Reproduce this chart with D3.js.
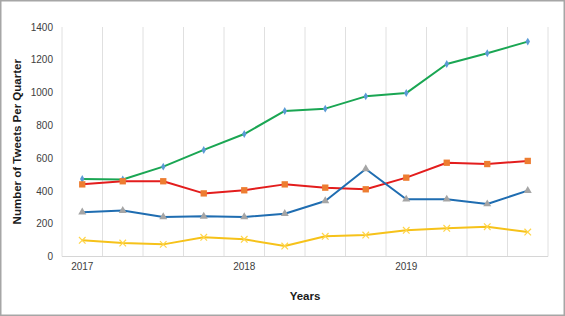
<!DOCTYPE html>
<html>
<head>
<meta charset="utf-8">
<script src="https://cdn.jsdelivr.net/npm/d3@7"></script>
<style>
  body { margin: 0; background: #fff; }
  svg { font-family: "Liberation Sans", Arial, sans-serif; }
</style>
</head>
<body>
<svg id="chart"></svg>
<script>
// Quarters 2017 Q1 .. 2019 Q4
const quarters = ["2017 Q1", "2017 Q2", "2017 Q3", "2017 Q4",
                  "2018 Q1", "2018 Q2", "2018 Q3", "2018 Q4",
                  "2019 Q1", "2019 Q2", "2019 Q3", "2019 Q4"];
const yearLabels = { "2017 Q1": "2017", "2018 Q1": "2018", "2019 Q1": "2019" };
const yTicks = [0, 200, 400, 600, 800, 1000, 1200, 1400];

const greenValues = [473, 470, 548, 650, 747, 888, 902, 977, 997, 1174, 1240, 1311];
const redValues = [440, 459, 459, 385, 404, 440, 420, 410, 481, 572, 564, 583];
const blueValues = [270, 280, 241, 245, 241, 261, 339, 534, 349, 349, 320, 402];
const yellowValues = [99, 82, 74, 117, 105, 64, 123, 131, 160, 172, 182, 149];

const W = 565, H = 316;
const margin = { top: 27, right: 17, bottom: 59.5, left: 62 };

const svg = d3.select("#chart").attr("width", W).attr("height", H);

// outer border
svg.append("rect")
    .attr("x", 0.75).attr("y", 0.75)
    .attr("width", W - 1.5).attr("height", H - 1.5)
    .attr("fill", "#fff").attr("stroke", "#a6a6a6").attr("stroke-width", 1.5);

const x = d3.scaleBand()
    .domain(quarters)
    .range([margin.left, W - margin.right])
    .padding(0);

const y = d3.scaleLinear()
    .domain([0, 1400])
    .range([H - margin.bottom, margin.top]);

// vertical gridlines at category boundaries
const bounds = quarters.map(q => x(q)).concat([x.range()[1]]);
svg.append("g")
    .selectAll("line")
    .data(bounds)
    .enter()
    .append("line")
    .attr("x1", d => d).attr("x2", d => d)
    .attr("y1", y(1400)).attr("y2", y(0))
    .attr("stroke", "#e0e0e0").attr("stroke-width", 1);

// bottom axis line
svg.append("line")
    .attr("x1", x.range()[0]).attr("x2", x.range()[1])
    .attr("y1", y(0)).attr("y2", y(0))
    .attr("stroke", "#d6d6d6").attr("stroke-width", 1);

// y axis
const yAxis = svg.append("g")
    .attr("transform", "translate(" + (margin.left - 9) + ",0)")
    .call(d3.axisLeft(y).tickValues(yTicks).tickFormat(d3.format("d")).tickSize(0).tickPadding(0));
yAxis.select(".domain").remove();
yAxis.selectAll("text").attr("fill", "#404040").style("font-size", "10px");

// x axis
const xAxis = svg.append("g")
    .attr("transform", "translate(0," + y(0) + ")")
    .call(d3.axisBottom(x).tickValues(Object.keys(yearLabels))
        .tickFormat(d => yearLabels[d]).tickSize(0).tickPadding(6));
xAxis.select(".domain").remove();
xAxis.selectAll("text").attr("fill", "#404040").style("font-size", "10px");

// axis titles
svg.append("text")
    .attr("x", (x.range()[0] + x.range()[1]) / 2)
    .attr("y", 300)
    .attr("text-anchor", "middle")
    .style("font-size", "11.5px").style("font-weight", "bold")
    .attr("fill", "#1a1a1a")
    .text("Years");

svg.append("text")
    .attr("transform", "translate(21," + ((y(0) + y(1400)) / 2) + ") rotate(-90)")
    .attr("text-anchor", "middle")
    .style("font-size", "11.5px").style("font-weight", "bold")
    .attr("fill", "#1a1a1a")
    .text("Number of Tweets Per Quarter");

const series = [
    { values: greenValues, line: "#1aa653", marker: "#5b9bd5", symbol: d3.symbolDiamond, size: 18 },
    { values: redValues, line: "#e31d1d", marker: "#ed7d31", symbol: d3.symbolSquare, size: 40 },
    { values: blueValues, line: "#1f6db1", marker: "#a5a5a5", symbol: d3.symbolTriangle, size: 28 },
    { values: yellowValues, line: "#f6c21a", marker: "#ffd54a", symbol: d3.symbolX, size: 30 }
];

const cx = q => x(q) + x.bandwidth() / 2;

const line = d3.line()
    .x((d, i) => cx(quarters[i]))
    .y(d => y(d));

series.forEach(s => {
    svg.append("path")
        .datum(s.values)
        .attr("d", line)
        .attr("fill", "none")
        .attr("stroke", s.line)
        .attr("stroke-width", 2)
        .attr("stroke-linejoin", "round");

    svg.append("g")
        .selectAll("path")
        .data(s.values)
        .enter()
        .append("path")
        .attr("transform", (d, i) => "translate(" + cx(quarters[i]) + "," + y(d) + ")")
        .attr("d", d3.symbol().type(s.symbol).size(s.size))
        .attr("fill", s.symbol === d3.symbolX ? "none" : s.marker)
        .attr("stroke", s.symbol === d3.symbolX ? s.marker : "none")
        .attr("stroke-width", 1.2);
});
</script>
</body>
</html>
